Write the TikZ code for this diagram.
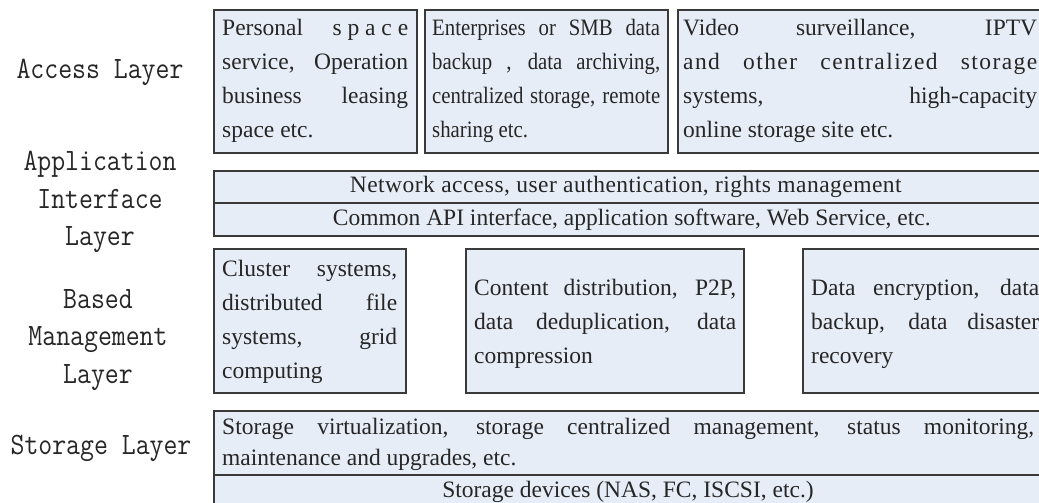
\documentclass[tikz,border=0pt]{standalone}
\usepackage{fontspec}
\setmainfont{Liberation Serif}
\definecolor{boxfill}{RGB}{231,237,247}
\definecolor{boxline}{RGB}{58,58,58}
\definecolor{txt}{RGB}{38,38,38}
\tikzset{
  box/.style={draw=boxline, line width=1.6pt, fill=boxfill, rectangle, inner sep=0pt, anchor=north west},
  body/.style={font=\fontsize{23.5}{34}\selectfont, text=txt, align=justify, inner sep=0pt, anchor=north west},
  line/.style={font=\fontsize{23.5}{34}\selectfont, text=txt, inner sep=0pt},
  lab/.style={font=\fontsize{27}{32.5}\selectfont\ttfamily, text=txt, align=center, inner sep=0pt}
}
\begin{document}
\begin{tikzpicture}[x=1pt,y=-1pt]
\useasboundingbox (0,0) rectangle (1039,503);
\fill[white] (0,0) rectangle (1039,503);

% layer labels (taller glyphs)
\begin{scope}[shift={(100,72)}, yscale=1.15, transform shape]
  \node[lab] (lacc) at (0,0) {Access Layer};
\end{scope}
\begin{scope}[shift={(100,202)}, yscale=1.15, transform shape]
  \node[lab] (lapi) at (0,0) {Application\\Interface\\Layer};
\end{scope}
\begin{scope}[shift={(98,340)}, yscale=1.15, transform shape]
  \node[lab] (lman) at (0,0) {Based\\Management\\Layer};
\end{scope}
\begin{scope}[shift={(101,448)}, yscale=1.15, transform shape]
  \node[lab] (lsto) at (0,0) {Storage Layer};
\end{scope}

% access layer boxes
\node[box, minimum width=203pt, minimum height=143pt] (a1) at (213,9) {};
\node[box, minimum width=243pt, minimum height=143pt] (a2) at (424,9) {};
\node[box, minimum width=370pt, minimum height=143pt] (a3) at (677,9) {};
\node[body, text width=186pt] (ta1) at ([shift={(9,10)}]a1.north west)
  {Personal\hfill s p a c e\linebreak service, Operation\linebreak business leasing\linebreak space etc.};
\node[body, text width=228pt, font=\fontsize{23.5}{34}\selectfont\addfontfeatures{FakeStretch=0.885}] (ta2) at ([shift={(8,10)}]a2.north west)
  {Enterprises or SMB data\linebreak backup , data archiving,\linebreak centralized storage, remote\linebreak sharing etc.};
\node[body, text width=354pt] (ta3) at ([shift={(6,10)}]a3.north west)
  {Video surveillance, IPTV\linebreak {\addfontfeatures{LetterSpace=6}and other centralized storage}\linebreak systems, high-capacity\linebreak online storage site etc.};

% application interface layer
\node[box, minimum width=830pt, minimum height=32pt] (api1) at (213,170) {};
\node[box, minimum width=830pt, minimum height=33pt] (api2) at (213,202) {};
\node[line, font=\fontsize{23.5}{34}\selectfont\addfontfeatures{LetterSpace=2}] (tapi1) at ([xshift=-3pt]api1.center) {Network access, user authentication, rights management};
\node[line] (tapi2) at ([xshift=3pt]api2.center) {Common API interface, application software, Web Service, etc.};

% management layer
\node[box, minimum width=192pt, minimum height=144pt] (m1) at (213,248) {};
\node[box, minimum width=278pt, minimum height=144pt] (m2) at (465,248) {};
\node[box, minimum width=245pt, minimum height=144pt] (m3) at (802,248) {};
\node[body, text width=175pt] (tm1) at ([shift={(9,12)}]m1.north west)
  {Cluster systems,\linebreak distributed file\linebreak systems, grid\linebreak computing};
\node[body, text width=262pt] (tm2) at ([shift={(9,31)}]m2.north west)
  {Content distribution, P2P,\linebreak data deduplication, data\linebreak compression};
\node[body, text width=228pt] (tm3) at ([shift={(9,31)}]m3.north west)
  {Data encryption, data\linebreak backup, data disaster\linebreak recovery};

% storage layer
\node[box, minimum width=830pt, minimum height=64pt] (s1) at (213,410) {};
\node[box, minimum width=830pt, minimum height=40pt] (s2) at (213,474) {};
\node[body, text width=812pt, font=\fontsize{23.5}{31}\selectfont] (ts1) at ([shift={(9,8)}]s1.north west)
  {Storage virtualization, storage centralized management, status monitoring,\linebreak maintenance and upgrades, etc.};
\node[line] (ts2) at (628,492) {Storage devices (NAS, FC, ISCSI, etc.)};
\end{tikzpicture}
\end{document}
